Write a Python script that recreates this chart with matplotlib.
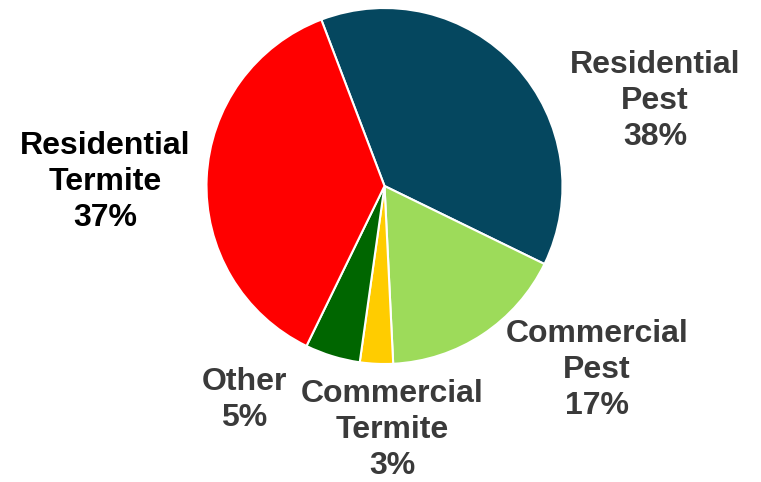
import matplotlib
matplotlib.use("Agg")
import matplotlib.pyplot as plt

# Revenue mix by service line
categories = ["Residential\nPest", "Commercial\nPest", "Commercial\nTermite", "Other", "Residential\nTermite"]
shares = [38, 17, 3, 5, 37]
colors = ["#05475F", "#9DDB5A", "#FFCC00", "#006600", "#FF0000"]
label_colors = ["#3A3A3A", "#3A3A3A", "#3A3A3A", "#3A3A3A", "#000000"]
label_pos = [(655, 101), (597, 370), (392, 430), (244, 400), (105, 182)]

W, H = 761, 482
fig = plt.figure(figsize=(W / 100, H / 100), dpi=100)
ax = fig.add_axes([0, 0, 1, 1])

cx, cy, r = 384.5, 186, 178
ax.pie(shares, colors=colors, startangle=110.8, counterclock=False,
       center=(cx, H - cy), radius=r, frame=True,
       wedgeprops=dict(edgecolor="white", linewidth=1.5))
ax.set_xlim(0, W)
ax.set_ylim(0, H)
ax.set_aspect("equal")
ax.axis("off")

for name, val, (x, y), c in zip(categories, shares, label_pos, label_colors):
    ax.text(x, H - y, f"{name}\n{val}%", ha="center", va="center",
            fontsize=23, fontweight="bold", color=c,
            family="Liberation Sans", linespacing=1.27)

fig.savefig("out.png", dpi=100)
